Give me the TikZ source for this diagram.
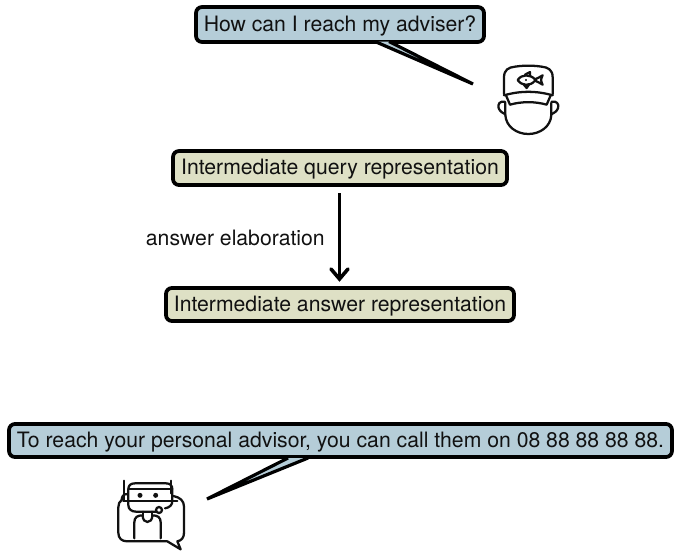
\documentclass[tikz,border=0pt]{standalone}
\usepackage{fontspec}
\setmainfont{TeX Gyre Heros}
\definecolor{bubbleblue}{HTML}{B5CDD8}
\definecolor{boxgreen}{HTML}{DEE0C5}
\definecolor{ink}{HTML}{111111}
\tikzset{
  box/.style={draw=black,line width=2.8pt,rounded corners=4.5pt,inner sep=0pt,text=ink,text height=13pt,text depth=3.1pt,font=\fontsize{15.9pt}{18pt}\selectfont},
  bubble/.style={box,fill=bubbleblue},
  repbox/.style={box,fill=boxgreen},
  tailfill/.style={fill=bubbleblue,draw=none},
  tailline/.style={draw=black,line width=2.4pt,line cap=butt,line join=miter},
  flow/.style={draw=black,line width=2.7pt},
  iconline/.style={draw=ink,line width=1.7pt,line cap=round,line join=round},
  lab/.style={text=ink,inner sep=0pt,font=\fontsize{15.9pt}{18pt}\selectfont}
}
\begin{document}
\begin{tikzpicture}[x=0.75pt,y=-0.75pt]
\useasboundingbox (0,0) rectangle (674,553);
% boxes
\node[bubble,minimum width=216pt,minimum height=26.2pt] (q) at (340,24.5) {How can I reach my adviser?};
\node[repbox,minimum width=250.5pt,minimum height=25.5pt] (iq) at (340,168) {Intermediate query representation};
\node[repbox,minimum width=261pt,minimum height=24.8pt] (ia) at (340,304.5) {Intermediate answer representation};
\node[bubble,minimum width=497.2pt,minimum height=24.8pt] (r) at (340.5,440.5) {To reach your personal advisor, you can call them on 08 88 88 88 88.};
% arrow
\coordinate (as) at (339.5,193);
\coordinate (ae) at (339.5,279);
\draw[flow] (as) -- (ae);
\coordinate (al) at (331,269); \coordinate (ar) at (348,269);
\draw[flow,line cap=round,line join=miter] (al) -- (ae) -- (ar);
\node[lab,anchor=east] (lbl) at (325,237.5) {answer elaboration};
% tails
\coordinate (t1a) at (375,41.5); \coordinate (t1b) at (389,41.5); \coordinate (t1) at (473,84);
\fill[tailfill] (t1a) -- (t1) -- (t1b) -- cycle;
\draw[tailline] (t1a) -- (t1) -- (t1b);
\coordinate (t2a) at (288,458); \coordinate (t2b) at (308,458); \coordinate (t2) at (207,499);
\fill[tailfill] (t2a) -- (t2) -- (t2b) -- cycle;
\draw[tailline] (t2a) -- (t2) -- (t2b);
% user icon
\begin{scope}[shift={(480,60)},x=0.25pt,y=-0.25pt,iconline]
  \draw (72,103) -- (72,52) .. controls (72,30) and (85,22) .. (105,20) .. controls (130,16) and (160,16) .. (185,20) .. controls (205,22) and (218,30) .. (218,52) -- (218,103);
  \draw (72,106) .. controls (120,92) and (170,92) .. (218,106);
  \draw (78,106) -- (90,134) .. controls (125,124) and (165,124) .. (200,134) -- (212,106);
  \draw (75,125) .. controls (60,122) and (52,132) .. (56,145) .. controls (60,155) and (70,160) .. (76,163);
  \draw (215,125) .. controls (230,122) and (238,132) .. (234,145) .. controls (230,155) and (220,160) .. (214,163);
  \draw (76,128) -- (76,165) .. controls (78,200) and (110,222) .. (145,222) .. controls (180,222) and (212,200) .. (214,165) -- (214,128);
  \draw (113,60) .. controls (125,42) and (150,42) .. (165,58) .. controls (172,56) and (180,50) .. (188,46) .. controls (182,55) and (182,65) .. (188,74) .. controls (180,70) and (172,64) .. (165,62) .. controls (150,80) and (125,78) .. (113,60) -- cycle;
  \draw (135,44) -- (150,36) -- (150,46);
  \draw (130,72) -- (140,84) -- (148,72);
  \draw (138,60) -- (138,60.1);
\end{scope}
% bot icon
\begin{scope}[shift={(90,460)},x=0.25pt,y=-0.25pt,iconline]
  \draw (115,88) -- (115,135) .. controls (115,148) and (125,155) .. (138,155) -- (200,155);
  \draw (115,88) .. controls (115,76) and (122,70) .. (135,70) -- (228,70) .. controls (240,70) and (247,76) .. (247,88) -- (247,122) .. controls (247,135) and (240,142) .. (225,145);
  \draw (115,88) -- (247,88);
  \draw (100,123) -- (262,123);
  \draw (102,62) -- (102,120);
  \draw (243,62) -- (243,100);
  \draw (112,102) .. controls (100,102) and (95,110) .. (95,120);
  \draw (95,120) .. controls (88,125) and (85,132) .. (85,142) -- (85,218) .. controls (85,235) and (95,244) .. (112,244) -- (232,244) -- (272,268) -- (262,244) .. controls (275,242) and (282,232) .. (282,218) -- (282,140) .. controls (282,122) and (270,112) .. (250,108);
  \fill[ink,draw=none] (150,106) circle (7.5);
  \fill[ink,draw=none] (197,106) circle (7.5);
  \draw (207,150) circle (9);
  \draw (133,235) -- (133,187) .. controls (133,172) and (142,166) .. (158,166) .. controls (158,180) and (165,186) .. (172,186) .. controls (180,186) and (187,180) .. (187,166) .. controls (203,166) and (212,172) .. (212,187) -- (212,235);
  \draw (158,155) -- (158,166);
  \draw (187,155) -- (187,166);
\end{scope}
\end{tikzpicture}
\end{document}
